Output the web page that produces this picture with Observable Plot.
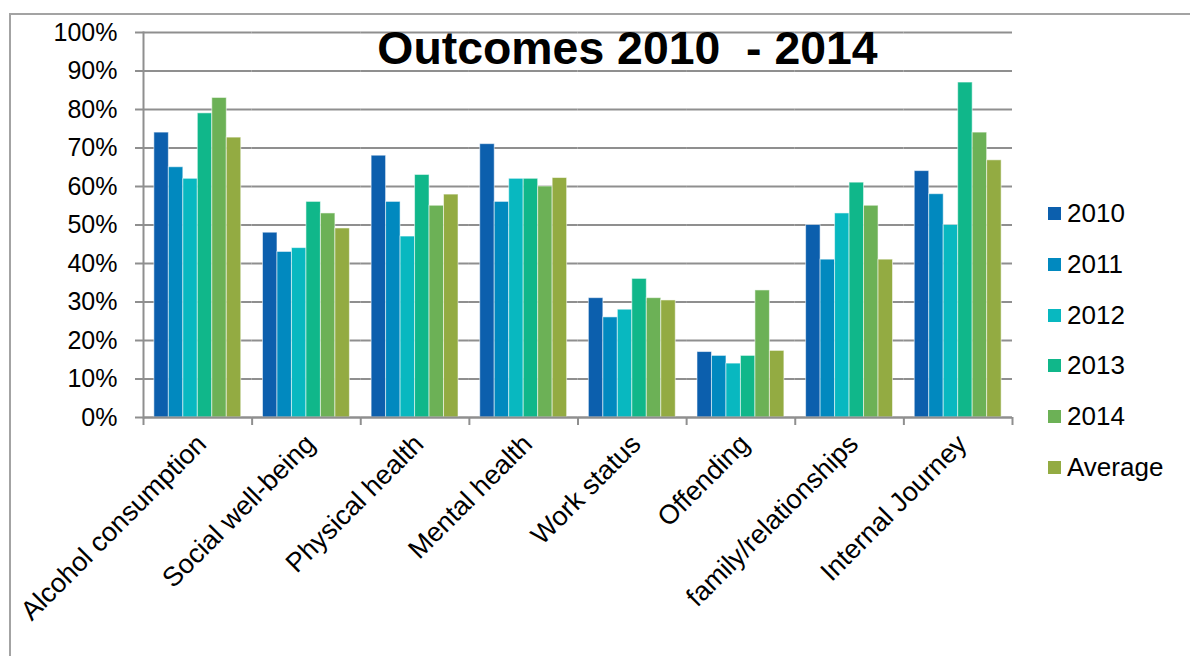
<!DOCTYPE html>
<html>
<head>
<meta charset="utf-8">
<script src="https://cdn.jsdelivr.net/npm/d3@7"></script>
<script src="https://cdn.jsdelivr.net/npm/@observablehq/plot@0.6"></script>
<style>
  html, body { margin: 0; padding: 0; background: #fff; }
  #wrap { position: relative; width: 1190px; height: 656px; overflow: hidden; font-family: "Liberation Sans", Arial, sans-serif; }
  #border { position: absolute; left: 9px; top: 13px; width: 1300px; height: 800px; border-left: 2px solid #a3a3a3; border-top: 2px solid #a3a3a3; }
  #chart { position: absolute; left: 0; top: 0; }
  #title { position: absolute; left: 627.5px; top: 25px; transform: translateX(-50%); font-size: 46.4px; line-height: 46px; font-weight: bold; white-space: pre; color: #000; }
  #legend { position: absolute; left: 1048px; top: 201px; }
  .row { display: flex; align-items: center; height: 25px; margin-bottom: 25.8px; font-size: 26px; line-height: 25px; color: #000; }
  .sw { width: 13px; height: 13px; margin-right: 6px; flex: none; }
</style>
</head>
<body>
<div id="wrap">
  <div id="border"></div>
  <div id="chart"></div>
  <div id="title"></div>
  <div id="legend"></div>
</div>
<script>
const titleText = "Outcomes 2010  - 2014";
const categories = ["Alcohol consumption", "Social well-being", "Physical health", "Mental health",
  "Work status", "Offending", "family/relationships", "Internal Journey"];
const series = ["2010", "2011", "2012", "2013", "2014", "Average"];
const colors = ["#0c5fad", "#0189bf", "#08b8c0", "#10b78a", "#6cb156", "#93ab42"];
const v2010 = [74, 48, 68, 71, 31, 17, 50, 64];
const v2011 = [65, 43, 56, 56, 26, 16, 41, 58];
const v2012 = [62, 44, 47, 62, 28, 14, 53, 50];
const v2013 = [79, 56, 63, 62, 36, 16, 61, 87];
const v2014 = [83, 53, 55, 60, 31, 33, 55, 74];
const vAverage = [72.7, 49.1, 57.9, 62.2, 30.4, 17.3, 41, 66.8];
const yTicks = [0, 0.1, 0.2, 0.3, 0.4, 0.5, 0.6, 0.7, 0.8, 0.9, 1];

const seriesValues = [v2010, v2011, v2012, v2013, v2014, vAverage];
const data = categories.flatMap((c, i) => series.map((s, j) => ({category: c, series: s, value: seriesValues[j][i] / 100})));

const W = 1190, H = 656, mL = 143, mR = 178, mT = 32, mB = 239;
const step = (W - mL - mR) / categories.length;
const gray = "#8f8f8f";

const chart = Plot.plot({
  width: W, height: H,
  marginLeft: mL, marginRight: mR, marginTop: mT, marginBottom: mB,
  style: {fontFamily: "'Liberation Sans', Arial, sans-serif", fontSize: "25px", color: "#000", background: "transparent"},
  fx: {domain: categories, padding: 0, round: false, label: null},
  x: {domain: series, paddingInner: 0, paddingOuter: 0.75, round: false, axis: null},
  y: {domain: [0, 1], label: null},
  color: {domain: series, range: colors},
  marks: [
    Plot.gridY({ticks: yTicks, stroke: gray, strokeOpacity: 1, strokeWidth: 2}),
    Plot.axisY({ticks: yTicks, tickFormat: d3.format(".0%"), tickSize: 8, tickPadding: 18, stroke: gray, strokeWidth: 2, fontSize: 25, label: null}),
    Plot.barY(data, {fx: "category", x: "series", y: "value", fill: "series", stroke: "white", strokeOpacity: 0.55, strokeWidth: 1}),
    Plot.ruleY([0], {stroke: gray, strokeWidth: 2}),
    Plot.frame({anchor: "left", facetAnchor: "left", stroke: gray, strokeWidth: 2}),
    Plot.axisFx({anchor: "bottom", tickSize: 8, tickFormat: () => "", dx: -step / 2, stroke: gray, strokeWidth: 2, label: null}),
    Plot.axisFx({anchor: "bottom", ticks: [categories[categories.length - 1]], tickSize: 8, tickFormat: () => "", dx: step / 2, stroke: gray, strokeWidth: 2, label: null}),
    Plot.axisFx({anchor: "bottom", tickSize: 0, tickPadding: 22, tickRotate: -45, fontSize: 27, dx: 4, label: null})
  ]
});
document.getElementById("chart").appendChild(chart);

document.getElementById("title").textContent = titleText;
const legend = document.getElementById("legend");
series.forEach((s, i) => {
  const row = document.createElement("div");
  row.className = "row";
  const sw = document.createElement("div");
  sw.className = "sw";
  sw.style.background = colors[i];
  const t = document.createElement("span");
  t.textContent = s;
  row.appendChild(sw);
  row.appendChild(t);
  legend.appendChild(row);
});
</script>
</body>
</html>
